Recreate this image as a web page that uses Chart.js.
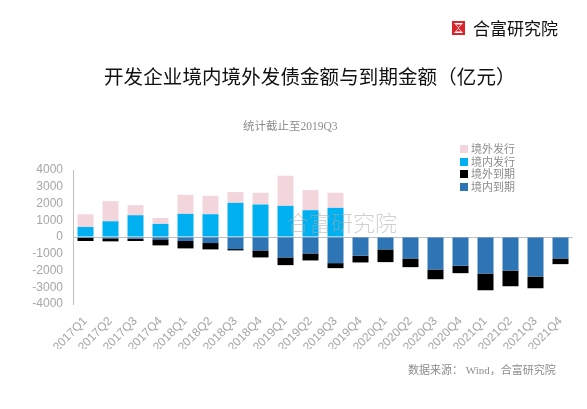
<!DOCTYPE html>
<html>
<head>
<meta charset="utf-8">
<script src="https://cdn.jsdelivr.net/npm/chart.js@4/dist/chart.umd.min.js"></script>
<style>
    html, body { margin: 0; padding: 0; background: #fff; }
    body { width: 587px; height: 409px; position: relative; overflow: hidden; }
    #chart { position: absolute; left: 0; top: 0; }
    .abs { position: absolute; white-space: nowrap; }
    #logo { left: 452px; top: 15px; font: 17px "Noto Sans CJK SC", sans-serif; color: #111; display: flex; align-items: center; }
    #logo svg { margin-right: 8px; }
    #title { left: 104px; top: 61px; font: 19.5px "Noto Sans CJK SC", sans-serif; color: #111; letter-spacing: 0.1px; }
    #subtitle { left: 243px; top: 117px; font: 11.5px "Liberation Serif", "Noto Sans CJK SC", serif; color: #8c8c8c; }
    #legend { left: 460px; top: 143px; font: 11px "Liberation Serif", "Noto Sans CJK SC", serif; color: #8c8c8c; }
    #legend div { height: 12.5px; line-height: 12.5px; display: flex; align-items: center; }
    #legend span.box { width: 8px; height: 8px; margin-right: 3px; display: inline-block; }
    #watermark { left: 287px; top: 205px; font: 22px "Noto Sans CJK SC", serif; color: rgba(170, 170, 170, 0.55); font-weight: 300; }
    #source { left: 408px; top: 361px; font: 11px "Liberation Serif", "Noto Sans CJK SC", serif; color: #8c8c8c; }
</style>
</head>
<body>
<canvas id="chart" width="587" height="409"></canvas>
<div class="abs" id="logo">
    <svg width="13" height="14" viewBox="0 0 13 14">
        <rect width="13" height="14" fill="#d9262c"/>
        <path d="M2 2 H11 L6.5 7 L11 12 H2 L6.5 7 Z" fill="#fff"/>
        <path d="M4 3.5 H9 L6.5 6.3 Z M4 10.5 H9 L6.5 7.7 Z" fill="#d9262c"/>
    </svg>合富研究院
</div>
<div class="abs" id="title">开发企业境内境外发债金额与到期金额（亿元）</div>
<div class="abs" id="subtitle">统计截止至2019Q3</div>
<div class="abs" id="legend"></div>
<div class="abs" id="source">数据来源： Wind，合富研究院</div>
<div class="abs" id="watermark">合富研究院</div>
<script>
// Categories and series (亿元)
const quarters = ['2017Q1', '2017Q2', '2017Q3', '2017Q4', '2018Q1', '2018Q2', '2018Q3', '2018Q4',
    '2019Q1', '2019Q2', '2019Q3', '2019Q4', '2020Q1', '2020Q2', '2020Q3', '2020Q4',
    '2021Q1', '2021Q2', '2021Q3', '2021Q4'];
const domesticIssue = [600, 940, 1300, 780, 1380, 1360, 2040, 1940, 1860, 1600, 1740, 0, 0, 0, 0, 0, 0, 0, 0, 0];
const overseasIssue = [760, 1200, 600, 360, 1140, 1100, 640, 700, 1800, 1200, 900, 0, 0, 0, 0, 0, 0, 0, 0, 0];
const domesticMature = [-60, -80, -100, -140, -240, -360, -720, -800, -1220, -980, -1560, -1120,
    -740, -1280, -1940, -1720, -2180, -2000, -2360, -1280];
const overseasMature = [-180, -180, -140, -360, -440, -380, -80, -420, -460, -420, -300, -400,
    -760, -520, -580, -440, -1000, -940, -700, -340];
const yTicks = [-4000, -3000, -2000, -1000, 0, 1000, 2000, 3000, 4000];

const colors = {
    overseasIssue: '#f2d6dc',
    domesticIssue: '#00b0f0',
    overseasMature: '#000000',
    domesticMature: '#2e75b6',
    axis: '#bfbfbf',
    tick: '#a6a6a6'
};

// Legend order as in the picture
const legendItems = [
    { label: '境外发行', color: colors.overseasIssue },
    { label: '境内发行', color: colors.domesticIssue },
    { label: '境外到期', color: colors.overseasMature },
    { label: '境内到期', color: colors.domesticMature }
];
document.getElementById('legend').innerHTML = legendItems.map(item =>
    `<div><span class="box" style="background:${item.color}"></span>${item.label}</div>`
).join('');

const barStyle = { categoryPercentage: 1, barPercentage: 0.64, stack: 's', borderWidth: 0 };

new Chart(document.getElementById('chart').getContext('2d'), {
    type: 'bar',
    data: {
        labels: quarters,
        datasets: [
            { label: '境内发行', data: domesticIssue, backgroundColor: colors.domesticIssue, ...barStyle },
            { label: '境外发行', data: overseasIssue, backgroundColor: colors.overseasIssue, ...barStyle },
            { label: '境内到期', data: domesticMature, backgroundColor: colors.domesticMature, ...barStyle },
            { label: '境外到期', data: overseasMature, backgroundColor: colors.overseasMature, ...barStyle }
        ]
    },
    options: {
        responsive: false,
        devicePixelRatio: 1,
        animation: false,
        layout: { padding: { left: 0, right: 14, top: 170, bottom: 60 } },
        plugins: {
            legend: { display: false },
            tooltip: { enabled: false }
        },
        scales: {
            x: {
                stacked: true,
                grid: { display: false },
                border: { display: false },
                ticks: {
                    color: colors.tick,
                    font: { family: 'Liberation Sans, Arial', size: 12 },
                    minRotation: 45,
                    maxRotation: 45,
                    padding: 2,
                    autoSkip: false
                },
                afterFit: scale => { scale.height = 45; }
            },
            y: {
                stacked: true,
                min: yTicks[0],
                max: yTicks[yTicks.length - 1],
                afterBuildTicks: scale => { scale.ticks = yTicks.map(v => ({ value: v })); },
                grid: {
                    drawTicks: false,
                    color: ctx => (ctx.tick && ctx.tick.value === 0 ? colors.axis : 'rgba(0,0,0,0)')
                },
                border: { display: true, color: colors.axis },
                ticks: {
                    color: colors.tick,
                    font: { family: 'Liberation Sans, Arial', size: 12 },
                    padding: 10,
                    autoSkip: false,
                    callback: value => String(value)
                },
                afterFit: scale => { scale.width = 73; }
            }
        }
    }
});
</script>
</body>
</html>
